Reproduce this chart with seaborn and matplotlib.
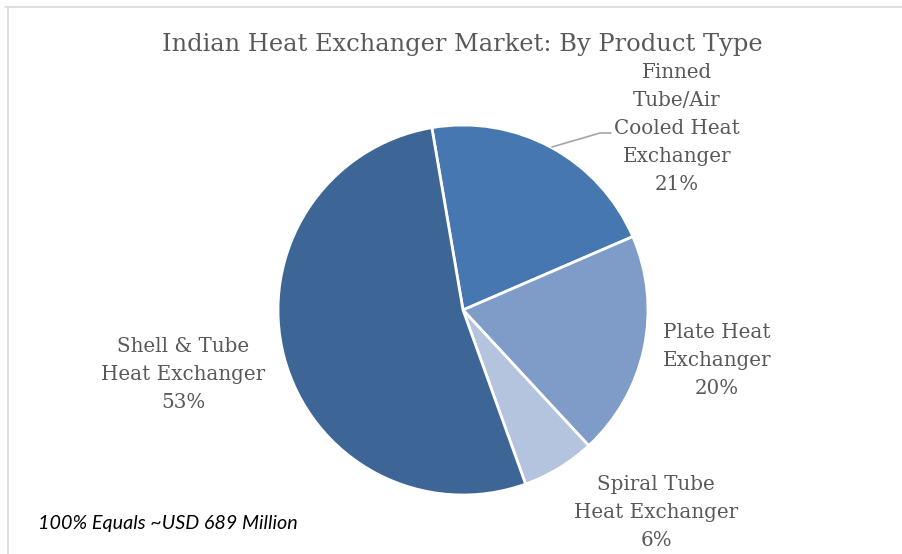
import matplotlib
matplotlib.use("Agg")
import matplotlib.pyplot as plt
import seaborn as sns
from matplotlib.lines import Line2D

sns.set_theme(style="white")

# Data (clockwise from top)
categories = ["Finned\nTube/Air\nCooled Heat\nExchanger",
              "Plate Heat\nExchanger",
              "Spiral Tube\nHeat Exchanger",
              "Shell & Tube\nHeat Exchanger"]
shares = [21.2, 19.6, 6.4, 52.8]
colors = ["#4677B0", "#7F9CC8", "#B4C4DF", "#3D6595"]

title = "Indian Heat Exchanger Market: By Product Type"
footnote = "100% Equals ~USD 689 Million"

W, H = 902, 554
fig = plt.figure(figsize=(W / 100, H / 100), dpi=100)
ax = fig.add_axes([0, 0, 1, 1])

cx, cy, r = 463, H - 310, 185
wedges, _ = ax.pie(shares, colors=colors, startangle=99.7, counterclock=False,
                   radius=r, center=(cx, cy),
                   wedgeprops=dict(edgecolor="white", linewidth=2.0))
ax.set_xlim(0, W)
ax.set_ylim(0, H)
ax.set_aspect("equal")
ax.axis("off")

txt_color = "#595959"
serif = ["DejaVu Serif"]
label_pos = [(677, 128), (717, 361), (656, 513), (183, 374)]
for cat, val, (lx, ly) in zip(categories, shares, label_pos):
    ax.text(lx, H - ly, f"{cat}\n{round(val):d}%", ha="center", va="center",
            fontsize=14.3, family=serif, color=txt_color, linespacing=1.6)

# leader line for first label
ax.add_line(Line2D([552, 600, 611], [H - 147, H - 133, H - 133],
                   color="#A6A6A6", linewidth=1.2))

ax.text(462, H - 44, title, ha="center", va="center", fontsize=17.4,
        family=serif, color=txt_color)
ax.text(38, H - 524, footnote, ha="left", va="center", fontsize=14.2,
        family=["Lato", "DejaVu Sans"], style="italic", color="black")

# border
fig.add_artist(Line2D([5 / W, 1], [1 - 7 / H, 1 - 7 / H], transform=fig.transFigure,
                      color="#D9D9D9", linewidth=1.2))
fig.add_artist(Line2D([8 / W, 8 / W], [0, 1 - 7 / H], transform=fig.transFigure,
                      color="#D9D9D9", linewidth=1.2))

fig.savefig("out.png", dpi=100, facecolor="white")
